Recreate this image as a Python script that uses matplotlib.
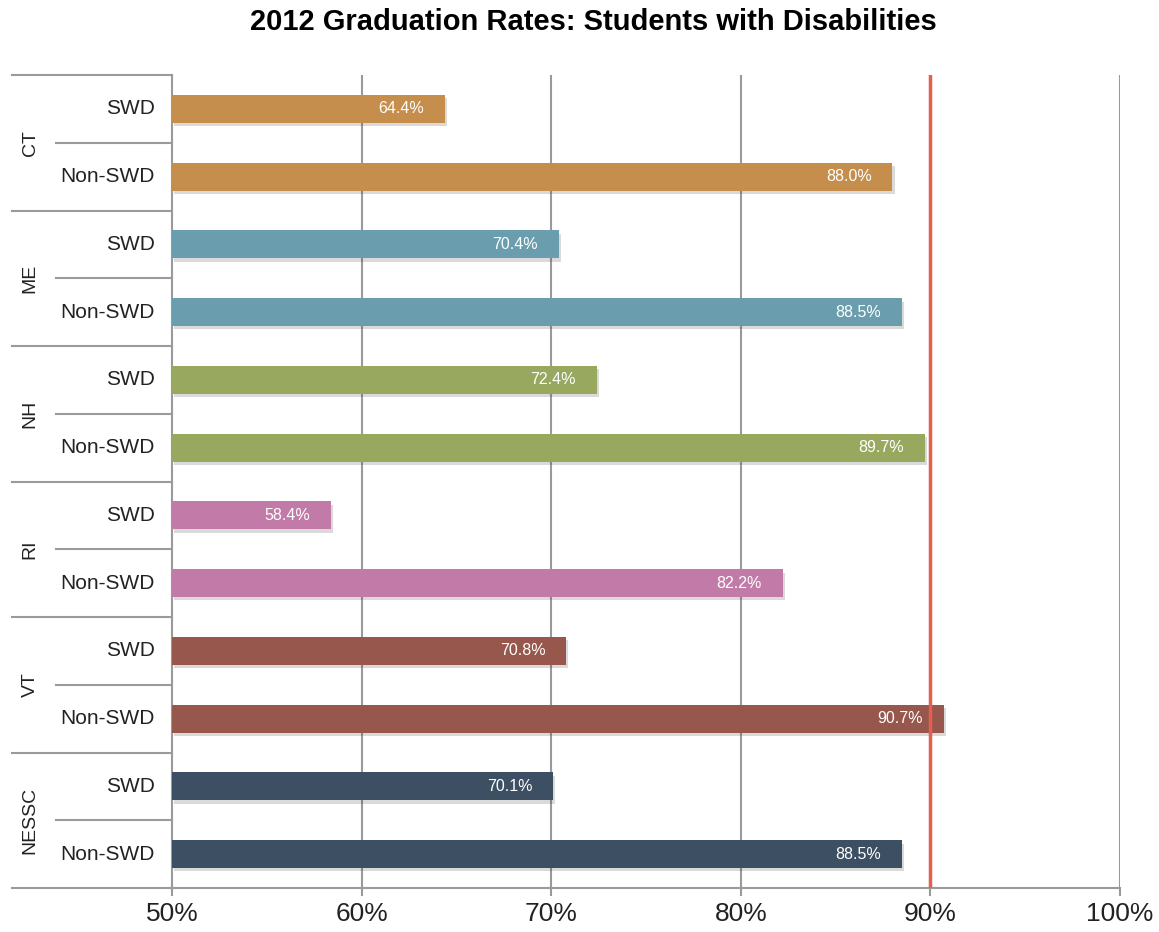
import matplotlib
matplotlib.use("Agg")
import matplotlib.pyplot as plt
import matplotlib.patheffects as pe
from matplotlib.transforms import blended_transform_factory
import numpy as np

plt.rcParams["font.family"] = ["Liberation Sans", "DejaVu Sans"]

# datos
estados = ["CT", "ME", "NH", "RI", "VT", "NESSC"]
grupos = ["SWD", "Non-SWD"]
swd = [64.4, 70.4, 72.4, 58.4, 70.8, 70.1]
non_swd = [88.0, 88.5, 89.7, 82.2, 90.7, 88.5]
colores = ["#C68E4D", "#6A9DAD", "#98A85E", "#C27BA8", "#97574D", "#3C4F63"]
meta = 90.0
xticks = [50, 60, 70, 80, 90, 100]

W, H = 1159, 932
fig = plt.figure(figsize=(W / 100, H / 100), dpi=100)
ax = fig.add_axes([172 / W, 1 - 888 / H, (1120 - 172) / W, (888 - 75) / H])

gris = "#9A9A9A"
for x in xticks[1:]:
    ax.axvline(x, color=gris, lw=1.5, zorder=1)

sombra = [pe.SimplePatchShadow(offset=(1.5, -2.5), alpha=0.18, shadow_rgbFace="#333333"), pe.Normal()]
y = 0
for est, s, n, c in zip(estados, swd, non_swd, colores):
    for val in (s, n):
        b = ax.barh(y, val - 50, left=50, height=0.41, color=c, zorder=3)
        b[0].set_path_effects(sombra)
        ax.annotate(f"{val:.1f}%", (val, y), xytext=(-15, 0), textcoords="offset points",
                    ha="right", va="center", color="white", fontsize=11.5, zorder=4)
        y += 1

ax.axvline(meta, color="#E2604C", lw=2.5, zorder=5)

ax.set_xlim(50, 100)
ax.set_ylim(len(estados) * 2 - 0.5, -0.5)
ax.set_xticks(xticks)
ax.set_xticklabels([f"{x}%" for x in xticks], fontsize=19, color="#222222")
ax.set_yticks([])
ax.tick_params(axis="x", length=6, width=1.5, color=gris, pad=4)
for k in ("top", "right"):
    ax.spines[k].set_visible(False)
for k in ("left", "bottom"):
    ax.spines[k].set_color(gris)
    ax.spines[k].set_linewidth(1.5)

# etiquetas y separadores a la izquierda
tr = blended_transform_factory(ax.transAxes, ax.transData)
x_ext = -(172 - 12) / (1120 - 172)
x_int = -(172 - 56) / (1120 - 172)
x_sub = -(172 - 155) / (1120 - 172)
x_est = -(172 - 30) / (1120 - 172)
for i, est in enumerate(estados):
    y0 = 2 * i
    for j, g in enumerate(grupos):
        ax.text(x_sub, y0 + j, g, transform=tr, ha="right", va="center", fontsize=15, color="#222222")
    ax.text(x_est, y0 + 0.5, est, transform=tr, ha="center", va="center", rotation=90,
            fontsize=14, color="#222222")
    ax.plot([x_int, 0], [y0 + 0.5, y0 + 0.5], transform=tr, color=gris, lw=1.5, clip_on=False)
    ax.plot([x_ext, 0], [y0 - 0.5, y0 - 0.5], transform=tr, color=gris, lw=1.5, clip_on=False)
ax.plot([x_ext, 0], [len(estados) * 2 - 0.5] * 2, transform=tr, color=gris, lw=1.5, clip_on=False)

fig.suptitle("2012 Graduation Rates: Students with Disabilities", x=593 / W, y=1 - 22 / H,
             va="center", fontsize=21, fontweight="bold")

fig.savefig("out.png", dpi=100)
